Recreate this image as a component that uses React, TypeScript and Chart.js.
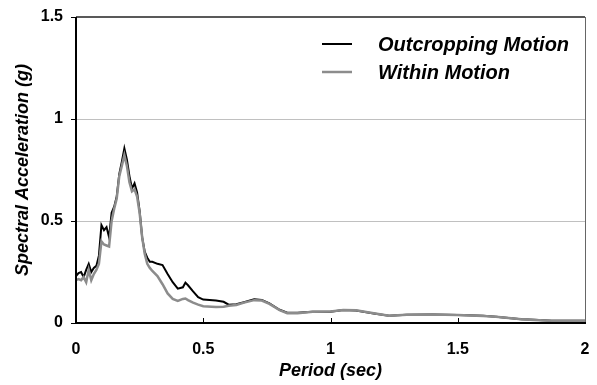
import React, { useEffect, useRef } from 'react';
import { Chart, registerables } from 'chart.js';

Chart.register(...registerables);

const periods = [
  0, 0.01, 0.02, 0.03, 0.04, 0.05, 0.06, 0.07, 0.08, 0.09,
  0.1, 0.11, 0.12, 0.13, 0.14, 0.15, 0.16, 0.17, 0.18, 0.19,
  0.2, 0.21, 0.22, 0.23, 0.24, 0.25, 0.26, 0.27, 0.28, 0.29,
  0.3, 0.32, 0.34, 0.36, 0.38, 0.4, 0.42, 0.43, 0.44, 0.46,
  0.48, 0.5, 0.55, 0.58, 0.6, 0.63, 0.66, 0.7, 0.73, 0.76,
  0.8, 0.83, 0.87, 0.93, 1.0, 1.05, 1.1, 1.17, 1.23, 1.3,
  1.4, 1.5, 1.6, 1.65, 1.7, 1.75, 1.8, 1.87, 1.95, 2.0,
];

const outcropping = [
  0.23, 0.245, 0.25, 0.225, 0.26, 0.29, 0.25, 0.27, 0.28, 0.33,
  0.48, 0.455, 0.47, 0.42, 0.54, 0.57, 0.62, 0.73, 0.79, 0.856,
  0.8, 0.72, 0.66, 0.685, 0.64, 0.55, 0.42, 0.35, 0.32, 0.3,
  0.3, 0.29, 0.284, 0.24, 0.2, 0.168, 0.175, 0.198, 0.185, 0.155,
  0.127, 0.115, 0.11, 0.104, 0.09, 0.092, 0.102, 0.116, 0.113, 0.096,
  0.065, 0.05, 0.05, 0.055, 0.055, 0.064, 0.061, 0.047, 0.036, 0.04,
  0.042, 0.039, 0.035, 0.031, 0.025, 0.018, 0.016, 0.011, 0.011, 0.011,
];

const within = [
  0.21, 0.215, 0.21, 0.225, 0.2, 0.26, 0.21, 0.24, 0.26, 0.29,
  0.4, 0.385, 0.38, 0.375, 0.5, 0.56, 0.61, 0.72, 0.77, 0.823,
  0.77, 0.69, 0.645, 0.655, 0.62, 0.54, 0.42, 0.34, 0.29, 0.27,
  0.255, 0.23, 0.19, 0.145, 0.118, 0.108, 0.118, 0.12, 0.112, 0.1,
  0.09, 0.082, 0.078, 0.08, 0.085, 0.088, 0.1, 0.112, 0.11, 0.094,
  0.063, 0.048, 0.048, 0.055, 0.056, 0.064, 0.062, 0.048, 0.036, 0.04,
  0.042, 0.039, 0.034, 0.031, 0.025, 0.018, 0.015, 0.011, 0.011, 0.011,
];

const seriesNames = ['Outcropping Motion', 'Within Motion'];
const seriesColors = ['#000000', '#8c8c8c'];
const xTickValues = [0, 0.5, 1, 1.5, 2];
const yTickValues = [0, 0.5, 1, 1.5];
const xTitle = 'Period (sec)';
const yTitle = 'Spectral Acceleration (g)';

const FONT = '"Liberation Sans", Arial, sans-serif';

const framePlugin = {
  id: 'framePlugin',
  afterDraw(chart: any) {
    const { ctx, chartArea: a, scales } = chart;
    ctx.save();
    // inward x tick marks
    ctx.strokeStyle = '#000';
    ctx.lineWidth = 1;
    xTickValues.forEach((v) => {
      if (v <= 0 || v >= 2) return;
      const x = Math.round(scales.x.getPixelForValue(v)) + 0.5;
      ctx.beginPath();
      ctx.moveTo(x, a.bottom);
      ctx.lineTo(x, a.bottom - 5);
      ctx.stroke();
    });
    // top and right border
    ctx.strokeStyle = '#222';
    ctx.lineWidth = 1.5;
    ctx.beginPath();
    ctx.moveTo(a.left, a.top);
    ctx.lineTo(a.right, a.top);
    ctx.stroke();
    ctx.strokeStyle = '#666';
    ctx.lineWidth = 1;
    ctx.beginPath();
    ctx.moveTo(a.right + 0.5, a.top);
    ctx.lineTo(a.right + 0.5, a.bottom);
    ctx.stroke();
    // left and bottom axes
    ctx.strokeStyle = '#000';
    ctx.lineWidth = 2;
    ctx.beginPath();
    ctx.moveTo(a.left, a.top);
    ctx.lineTo(a.left, a.bottom);
    ctx.lineTo(a.right + 1, a.bottom);
    ctx.stroke();
    // legend
    const rows = [44, 72];
    ctx.font = `italic bold 20px ${FONT}`;
    ctx.textBaseline = 'middle';
    ctx.textAlign = 'left';
    seriesNames.forEach((name, i) => {
      const y = rows[i];
      ctx.strokeStyle = seriesColors[i];
      ctx.lineWidth = i === 0 ? 2 : 2.5;
      ctx.beginPath();
      ctx.moveTo(322, y);
      ctx.lineTo(352, y);
      ctx.stroke();
      ctx.fillStyle = '#000';
      ctx.fillText(name, 378, y + 1);
    });
    ctx.restore();
  },
};

const fmt = (v: any) => String(Number(v));

export default function App() {
  const ref = useRef<HTMLCanvasElement | null>(null);

  useEffect(() => {
    document.body.style.margin = '0';
    const canvas = ref.current;
    if (!canvas) return;
    const chart = new Chart(canvas, {
      type: 'line',
      data: {
        datasets: [
          {
            label: seriesNames[0],
            data: periods.map((p, i) => ({ x: p, y: outcropping[i] })),
            borderColor: seriesColors[0],
            borderWidth: 2,
            pointRadius: 0,
            tension: 0,
            fill: false,
            order: 2,
          },
          {
            label: seriesNames[1],
            data: periods.map((p, i) => ({ x: p, y: within[i] })),
            borderColor: seriesColors[1],
            borderWidth: 2.5,
            pointRadius: 0,
            tension: 0,
            fill: false,
            order: 1,
          },
        ],
      },
      options: {
        animation: false,
        responsive: false,
        maintainAspectRatio: false,
        layout: { padding: { top: 17, right: 12, left: 0, bottom: 0 } },
        plugins: {
          legend: { display: false },
          tooltip: { enabled: false },
        },
        scales: {
          x: {
            type: 'linear',
            min: 0,
            max: 2,
            afterBuildTicks: (s: any) => {
              s.ticks = xTickValues.map((v) => ({ value: v }));
            },
            ticks: {
              color: '#000',
              font: { family: FONT, size: 16, weight: 'bold' },
              padding: 17,
              maxRotation: 0,
              callback: fmt,
            },
            grid: { display: true, drawOnChartArea: false, drawTicks: false },
            border: { display: false },
            title: {
              display: true,
              text: xTitle,
              color: '#000',
              font: { family: FONT, size: 18, weight: 'bold', style: 'italic' },
              padding: { top: 0, bottom: 3 },
            },
            afterFit: (s: any) => {
              s.height = 62;
              s.paddingLeft = 0;
              s.paddingRight = 0;
            },
          },
          y: {
            type: 'linear',
            min: 0,
            max: 1.5,
            afterBuildTicks: (s: any) => {
              s.ticks = yTickValues.map((v) => ({ value: v }));
            },
            ticks: {
              color: '#000',
              font: { family: FONT, size: 16, weight: 'bold' },
              padding: 8,
              callback: fmt,
            },
            grid: {
              color: (c: any) =>
                c.tick && (c.tick.value === 0 || c.tick.value === 1.5) ? 'rgba(0,0,0,0)' : '#c0c0c0',
              tickColor: '#000',
              tickLength: 5,
            },
            border: { display: false },
            title: {
              display: true,
              text: yTitle,
              color: '#000',
              font: { family: FONT, size: 18, weight: 'bold', style: 'italic' },
              padding: { top: 12, bottom: 0 },
            },
            afterFit: (s: any) => {
              s.width = 76;
              s.paddingTop = 0;
              s.paddingBottom = 0;
            },
          },
        },
      },
      plugins: [framePlugin],
    });
    return () => chart.destroy();
  }, []);

  return (
    <div style={{ width: 597, height: 385, background: '#fff' }}>
      <canvas ref={ref} width={597} height={385} style={{ display: 'block' }} />
    </div>
  );
}
